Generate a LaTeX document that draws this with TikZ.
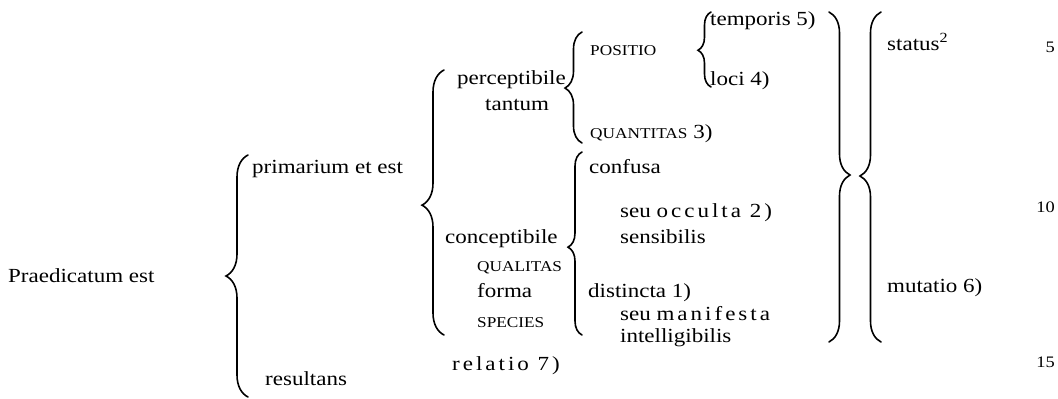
\documentclass[tikz,border=0pt]{standalone}
\usepackage{fontspec}
\setmainfont{Liberation Serif}[FakeStretch=1.15]
\usetikzlibrary{decorations.pathreplacing}
\tikzset{
  txt/.style={inner sep=0pt, anchor=base west, font=\fontsize{20}{24}\selectfont},
  smc/.style={inner sep=0pt, anchor=base west, font=\fontsize{15}{18}\selectfont},
  lnum/.style={inner sep=0pt, anchor=base east, font=\fontsize{16}{18}\selectfont},
  brc/.style={decorate, line width=1.6pt, line cap=round},
}
\newcommand{\spaced}[1]{{\addfontfeatures{LetterSpace=15}#1}}
\begin{document}
\begin{tikzpicture}[x=1pt,y=-1pt]
\useasboundingbox (0,0) rectangle (1058,399);
% texts
\node[txt] (praed) at (8,282) {Praedicatum est};
\node[txt] (prim) at (252,173) {primarium et est};
\node[txt] (result) at (265,385) {resultans};
\node[txt] (percep) at (457,84) {perceptibile};
\node[txt] (tantum) at (485,110) {tantum};
\node[smc] (positio) at (590,55) {POSITIO};
\node[txt] (quant) at (590,138) {{\fontsize{15}{18}\selectfont QUANTITAS} 3)};
\node[txt] (tempor) at (710,25) {temporis 5)};
\node[txt] (loci) at (710,85) {loci 4)};
\node[txt] (confusa) at (589,173) {confusa};
\node[txt] (occulta) at (620,217) {seu \spaced{occulta 2)}};
\node[txt] (sensib) at (620,243) {sensibilis};
\node[txt] (concep) at (445,243) {conceptibile};
\node[smc] (qualit) at (477,271) {QUALITAS};
\node[txt] (forma) at (477,297) {forma};
\node[smc] (species) at (477,327) {SPECIES};
\node[txt] (distin) at (588,297) {distincta 1)};
\node[txt] (manif) at (620,320) {seu \spaced{manifesta}};
\node[txt] (intell) at (620,342) {intelligibilis};
\node[txt] (relatio) at (452,370) {\spaced{relatio 7)}};
\node[txt] (status) at (887,50) {status\textsuperscript{2}};
\node[txt] (mutatio) at (887,292) {mutatio 6)};
\node[lnum] (n5) at (1055,52) {5};
\node[lnum] (n10) at (1055,212) {10};
\node[lnum] (n15) at (1055,367) {15};
% brace end points
\coordinate (b1t) at (248,155); \coordinate (b1b) at (248,397);
\coordinate (b2t) at (444,70);  \coordinate (b2b) at (444,335);
\coordinate (b3t) at (582,32);  \coordinate (b3b) at (582,143);
\coordinate (b4t) at (711,12);  \coordinate (b4b) at (711,87);
\coordinate (b5t) at (582,152); \coordinate (b5b) at (582,335);
\coordinate (b6t) at (829,12);  \coordinate (b6b) at (829,342);
\coordinate (b7t) at (881,12);  \coordinate (b7b) at (881,342);
% braces
\draw[brc, decoration={brace, amplitude=22pt, aspect=0.5}] (b1b) -- (b1t);
\draw[brc, decoration={brace, amplitude=22pt, aspect=0.49}] (b2b) -- (b2t);
\draw[brc, decoration={brace, amplitude=17pt, aspect=0.495}] (b3b) -- (b3t);
\draw[brc, decoration={brace, amplitude=13pt, aspect=0.49}] (b4b) -- (b4t);
\draw[brc, decoration={brace, amplitude=14pt, aspect=0.48}] (b5b) -- (b5t);
\draw[brc, decoration={brace, amplitude=21pt, aspect=0.494}] (b6t) -- (b6b);
\draw[brc, decoration={brace, amplitude=21pt, aspect=0.503}] (b7b) -- (b7t);
\end{tikzpicture}
\end{document}
